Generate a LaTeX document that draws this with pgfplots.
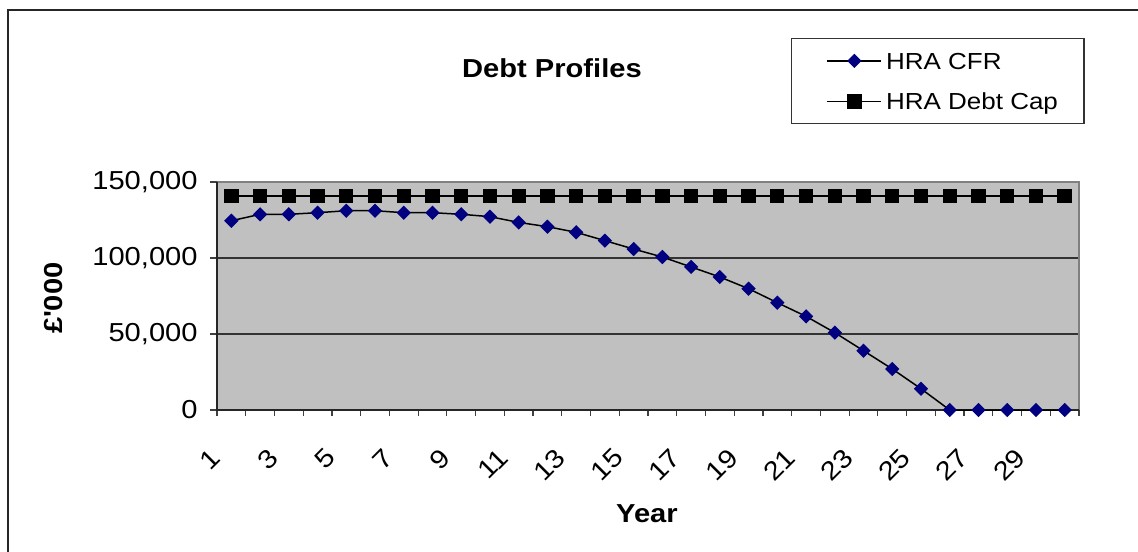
\documentclass[border=0pt]{standalone}
\usepackage{fontspec}
\setmainfont{Liberation Sans}[FakeStretch=1.12]
\usepackage{pgfplots}
\pgfplotsset{compat=1.18}
\definecolor{silverbg}{RGB}{192,192,192}
\definecolor{navyblue}{RGB}{0,0,128}
\begin{document}
\begin{tikzpicture}
\useasboundingbox (0,0) rectangle (569pt,275.5pt);
\draw[line width=0.8pt, black!85] (4pt,-1pt) -- (4pt,270.5pt) -- (570pt,270.5pt);
\begin{axis}[
  at={(108.5pt,70.5pt)}, anchor=south west,
  scale only axis, width=431pt, height=114pt,
  xmin=0.5, xmax=30.5, ymin=0, ymax=150000,
  axis line style={draw=none},
  axis background/.style={fill=silverbg},
  clip=false,
  xtick={1,3,...,29},
  minor xtick={0.5,1.5,...,30.5},
  ytick={0,50000,100000,150000},
  tick align=outside,
  major tick length=3.5pt, minor tick length=3pt,
  major x tick style={draw=none},
  minor x tick style={black!75, line width=0.6pt},
  major y tick style={black!75, line width=0.6pt},
  xtick pos=bottom, ytick pos=left,
  ymajorgrids, grid style={black!80, line width=0.6pt},
  scaled y ticks=false,
  /pgf/number format/.cd, fixed, 1000 sep={,}, assume math mode=true, /pgfplots/.cd,
  ticklabel style={font=\fontsize{13}{15}\selectfont},
  xticklabel style={xshift=-7.5pt, yshift=-18pt, rotate=45, anchor=east, inner sep=0pt},
  yticklabel style={inner sep=0pt, xshift=-6pt},
  every axis title shift=0pt,
  title={Debt Profiles},
  title style={font=\bfseries\fontsize{13}{15}\selectfont, at={(rel axis cs:0.3886,1.5)}, anchor=center},
  xlabel={Year},
  xlabel style={font=\bfseries\fontsize{13}{15}\selectfont, at={(rel axis cs:0.4988,-0.456)}, anchor=center},
  ylabel={£\textquotesingle 000},
  ylabel style={font=\bfseries\fontsize{13}{15}\selectfont, at={(rel axis cs:-0.1895,0.491)}, anchor=center},
  legend style={at={(rel axis cs:0.6659,1.6316)}, anchor=north west,
    draw=black!80, line width=0.6pt, inner xsep=13pt, inner ysep=6.9pt,
    row sep=11.9pt,
    nodes={inner sep=0pt, text height=8.4pt, text depth=0pt},
    font=\fontsize{11.6}{14}\selectfont},
  legend cell align=left,
  legend image code/.code={%
    \path (-4.5pt,0pt);
    \draw[mark repeat=2,mark phase=2,#1] plot coordinates {(0pt,0pt) (13.5pt,0pt) (27pt,0pt)};
    \path (29pt,0pt);
  },
]
\draw[black!50, line width=0.8pt] (rel axis cs:0,1) -- (rel axis cs:1,1) -- (rel axis cs:1,0);
\draw[black!85, line width=0.8pt] (rel axis cs:0,1) -- (rel axis cs:0,0) -- (rel axis cs:1,0);
\addplot[black, line width=0.75pt, mark=square*, mark size=2.15pt,
  mark options={rotate=45, fill=navyblue, draw=navyblue}]
  coordinates {
  (1,124500) (2,128750) (3,128750) (4,129800) (5,131100) (6,131100)
  (7,129800) (8,129800) (9,128750) (10,127200) (11,123400) (12,120600)
  (13,116900) (14,111400) (15,105900) (16,100650) (17,94100) (18,87500)
  (19,79800) (20,70600) (21,61600) (22,50900) (23,39000) (24,27000)
  (25,14000) (26,0) (27,0) (28,0) (29,0) (30,0)
  };
\addlegendentry{HRA CFR}
\addplot[black, line width=0.75pt, mark=square*, mark size=3.2pt,
  mark options={fill=black, draw=black}]
  coordinates {
  (1,140800) (2,140800) (3,140800) (4,140800) (5,140800) (6,140800)
  (7,140800) (8,140800) (9,140800) (10,140800) (11,140800) (12,140800)
  (13,140800) (14,140800) (15,140800) (16,140800) (17,140800) (18,140800)
  (19,140800) (20,140800) (21,140800) (22,140800) (23,140800) (24,140800)
  (25,140800) (26,140800) (27,140800) (28,140800) (29,140800) (30,140800)
  };
\addlegendentry{HRA Debt Cap}
\end{axis}
\end{tikzpicture}
\end{document}
